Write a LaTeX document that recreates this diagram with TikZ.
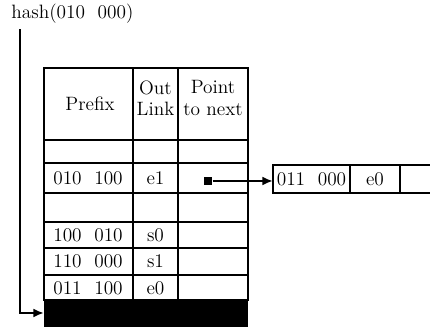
\documentclass[tikz,border=0pt]{standalone}
\usetikzlibrary{positioning,arrows.meta}
\tikzset{
        % texts in the cells
        celltext/.style={align=center, inner sep=0pt, font=\fontsize{11}{13}\selectfont},
        % grid of the tables
        tableline/.style={line width=1pt},
        % pointer arrows
        pointer/.style={line width=1.4pt, -{Latex[length=6pt,width=5pt]}},
        % start of a pointer
        pointer_start/.style={rectangle, fill=black, inner sep=0pt, minimum size=5pt}
}
\begin{document}
\begin{tikzpicture}[x=0.02cm, y=-0.02cm]
    \useasboundingbox (0,0) rectangle (430,327);
    % hash label
    \node[celltext, anchor=west] (hash) at (11,14) {hash(010\ \ 000)};
    % prefix table
    \draw[tableline] (44,68) rectangle (248,300);
    \foreach \y in {140,163,193,222,248,275}
        \draw[tableline] (44,\y) -- (248,\y);
    \foreach \x in {133,178}
        \draw[tableline] (\x,68) -- (\x,300);
    \fill (44,300) rectangle (248,327);
    \coordinate (bar) at (44,313);
    % header
    \node[celltext] (prefix) at (90,104) {Prefix};
    \node[celltext] (outlink) at (155.5,98) {Out\\[-1pt]Link};
    \node[celltext] (pointnext) at (213,98) {Point\\[-1pt]to next};
    % rows
    \node[celltext] (p1) at (88,178) {010\ \ 100};
    \node[celltext] (l1) at (155.5,178) {e1};
    \node[celltext] (p2) at (88,235) {100\ \ 010};
    \node[celltext] (l2) at (155.5,235) {s0};
    \node[celltext] (p3) at (88,261) {110\ \ 000};
    \node[celltext] (l3) at (155.5,261) {s1};
    \node[celltext] (p4) at (88,288) {011\ \ 100};
    \node[celltext] (l4) at (155.5,288) {e0};
    \node[pointer_start] (start) at (208,181) {};
    % next entry
    \draw[tableline] (430,165) -- (273,165) -- (273,193) -- (430,193);
    \foreach \x in {350,400}
        \draw[tableline] (\x,165) -- (\x,193);
    \coordinate (next) at (273,181);
    \node[celltext] (np) at (311.5,179) {011\ \ 000};
    \node[celltext] (nl) at (375,179) {e0};
    % arrows
    \draw[pointer] (hash.south -| 20,0) ++(0,5) -- (20,313) -- (bar);
    \draw[pointer] (start) -- (next);
\end{tikzpicture}
\end{document}
